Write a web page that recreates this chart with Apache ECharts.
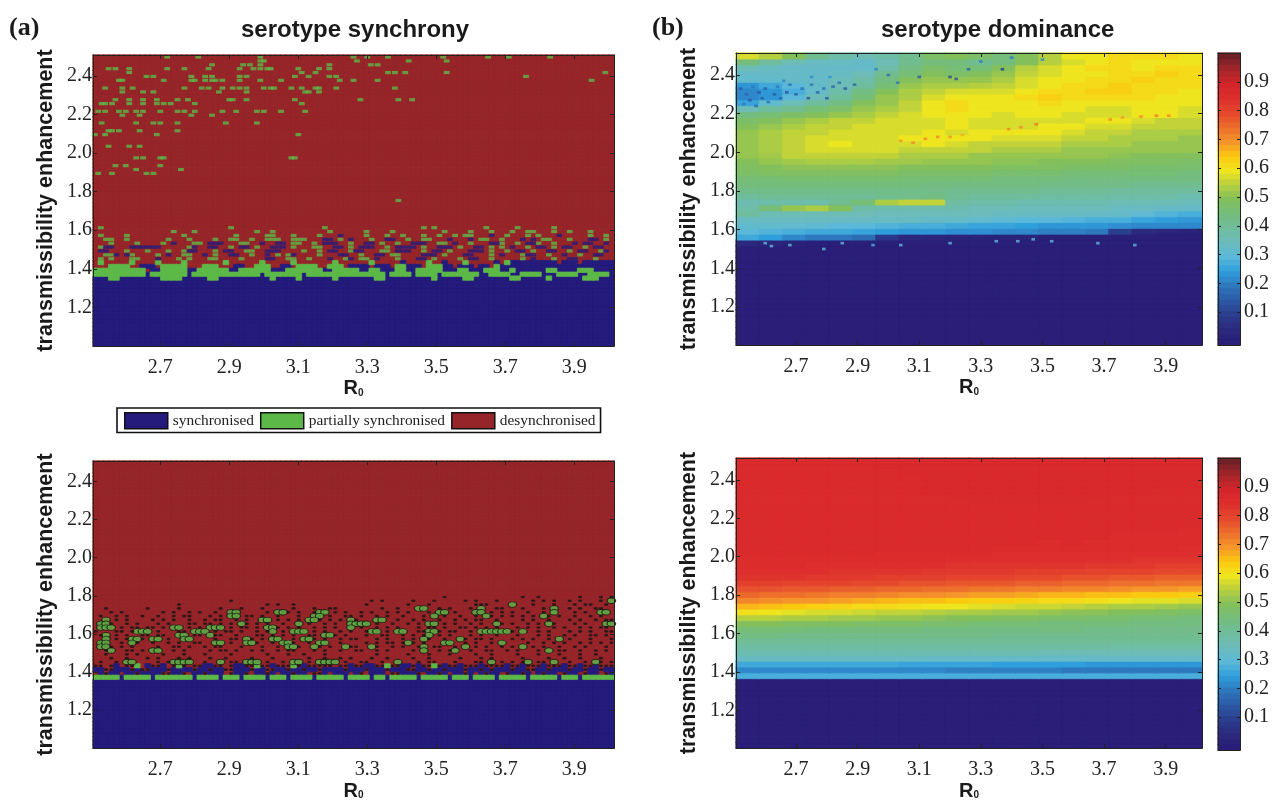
<!DOCTYPE html>
<html><head><meta charset="utf-8">
<style>html,body{margin:0;background:#fff}#c{width:1275px;height:802px;filter:blur(0.6px)}</style>
<script src="https://cdn.jsdelivr.net/npm/echarts@6/dist/echarts.min.js"></script>
</head><body><div id="c"></div>
<script>
const r0Ticks=[2.7,2.9,3.1,3.3,3.5,3.7,3.9];
const enhTicks=[1.2,1.4,1.6,1.8,2.0,2.2,2.4];
const barTicks=[0.1,0.2,0.3,0.4,0.5,0.6,0.7,0.8,0.9];
const barLevels=[0,.02,.04,.06,.08,.1,.12,.14,.16,.18,.2,.22,.24,.26,.28,.3,.32,.34,.36,.38,.4,.42,.44,.46,.48,.5,.52,.54,.56,.58,.6,.62,.64,.66,.68,.7,.72,.74,.76,.78,.8,.82,.84,.86,.88,.9,.92,.94,.96,.98,1];
const jet=['#2a1e78','#2b2a7e','#2b3f8f','#2c5ba6','#2e78bd','#2f9fdc','#5cb8d8','#6cbcbc','#6fbd9d','#74bd7c','#83c05c','#b5cf3f','#efe51f','#fbc90f','#f5962a','#ee6f2b','#e5492d','#de2f2e','#d4262a','#a8262a','#6f2126'];
const classNames={b:'synchronised',g:'partially synchronised',r:'desynchronised'};
const classColors={b:'#241b7c',g:'#5cb947',r:'#96252a'};

// (a) top: green patches [enhancement, R0 x 100 ...]
const syncTopGreen=[
[2.50,[272,281,299,326,330,336,352,365,371,383]],
[2.48,[299,300,327,342,353]],
[2.46,[285,294,296,299,319,331,333]],
[2.44,[255,257,261,272,277,284,293,297,299,301,302,310,316,319]],
[2.42,[261,311,315,336,338,341,353,399]],
[2.40,[266,268,279,283,285,293,295,309,313,319,321,376]],
[2.37,[258,259,271,279,280,283,285,286,288,293,299,305,322,326,333,395]],
[2.34,[254,259,262,277,282,284,288,291,293,295,300,302,303,308,311,315,316,321,338]],
[2.31,[259,265,268,287,295,312,313,316]],
[2.28,[257,261,265,269,275,278,290,291,295,309,328,339,343]],
[2.25,[253,254,256,261,265,269,271,273,280,311]],
[2.22,[252,254,258,260,263,265,270,275,277,280,288,292,298,300,305,312]],
[2.19,[259,264,279,285]],
[2.15,[253,263,268,270,275,289,298]],
[2.12,[255,256,258,264,275]],
[2.09,[251,254,269,310]],
[2.03,[255,261,264]],
[1.965,[263,265,270,271,308,309]],
[1.94,[257,260,270]],
[1.914,[263,276]],
[1.89,[252,256,266,268]],
[1.76,[339]]
];
// (a) top: mixed band, rows top-down, 100 columns. .=desynchronised g=partial b=synchronised
const syncTopBandFirst=30;
const syncTopBand=[
".g........ .......... ......g... .......... ....g..... .......... ...g.g.... .....g.... .g......g. ........",
"......... ......g... g......... ..g..g.... ......g... ...g....g. ........g. ...g...g.. .g..gg...g ..g...g...",
".g....g... .......g.. .......g.. ...gg...g. ...g...b.. ..g...g..g ...g..g..g .gg...b..g ...g.g...b .....g..g.",
"..gg..g... ....g...g. ...g..gg.. g..ggg..gg g...bb.g.b ...g..bb.. g..gg...b. ..b.gg..g. ..b.b.gg.. .g...bb.g.",
"...g....g. ...g.b...g g.bbb...gg ..b..bb.gg ..g.bbb..g ..bb.g..g. .bbb..gg.b ..g...bbg. .g.bbg..g. ..b.bb..b.",
".gbb...bbb bbb.....gb ..bb..g.bb .g..bbb.g. ..gg..bb.g .bbb..g.bb bb.g..bbb. g..bb.g.g. b..g.bb.g. bb..g.bb..",
".bb...g... g...g..gbb ...g.bb..g g..bbb.... g..g.bb..g bb...gg.bb b..g.bb.g. ..bbb.g..g .bb.g..bb. .g.bb..gb.",
"..ggb.bg.. ..g.b..gg. .b.g..bb.. g..b.g.gb. ...g...bb. .g..bb.gg. ...bbb.g.. .bb...g.b. ..gbb..g.. b..g..bb..",
".g.g...gg. ..b...g.g. ..gg....g. ...bb..gg. .g...b..gb .gg.b...g. ..bb.g.... g.bb..g... ..g.b...g. .bb...g...",
".g.....g.. ..g....g.. .....g.... ..g.....g. ......g... ...g.....b ....g..b.. .g.....b.g bbbbbbbbb. bbb.bbbbbb",
"...gggg..b bb.ggggg.. .ggg...bb. .ggg..bb.g ggg..ggg.b bbb.bbb.gg bbb.gggbb. bbb.bb.gbb bbbbbbbbbb bbbbbbbbbb",
"gggggggggg .bbgggggbb ggggggbbgg ggggbbbggg ggggbbgggg gbbggbbbgg bbgggggbbb ggbbbgggbb gbbbbbbggb bbbgggbbbb",
"gggggggggg bgggggggbg gggggggggg ggbggggggg bggggggggg ggggggbggg gbggggbggg ggggbbgggg bbggggbbbg gggbbggggb",
"bbbggbbbbb bbbggggbbb bbggbbbbbb bbbbgbbbbg bbbbbbgbbb bbbbggbbbb bbbbbgbbbb bggbbbbbbb ggbbbbbgbb bbbbgggbbb"
];
// (a) bottom: rows top-down, k=contour dot
const syncLowBandFirst=39;
const syncLowBand=[
".......... .......... .......... .......... .......... .......... .......k.. .......... ..k..k.... ...k...k.k",
".......... .......... ......k... .......... .......... ...k.k.... .k...k.... .k.k...k.. ....k.k.k. .k.k...k.g",
".......... ......k... .......... ...k.k..k. .......... ..k....... k...k..... ...kkk.... g...k...k. ..k.kk..k.",
"..k....... k.....k... ....k...k. ..k.....k. ..k..kk... .....k..k. ..gg..k.k. ..k.g..kk. ..k...k.g. .k.k..kk..",
"...k.k.... ...k.k..k. k..k..gg.. ...k.ggk.k ..kgg.k.k. .k.k..k.k. k...k.gg.k ...gg.k.k. k..k..k.g. ..k.k..gg.",
".k..k.k..k ..k..k.kk. ..k.k.gg.k k.k..k...k ..gg.k..kk .k..k.k..k ...k.g.k.. k..k.gk.k. k.k.k.gk.k ..k..k.k..",
"..g.k.k... .k.k.k..k. .k.kk..k.k ..gg.k.k.k .ggk.k.k.g k...gg..k. .k.k..k..k .k.kk..k.. ..k.k..k.. .k.k..k.kk",
".ggk..k.k. ..k.k...kk .kk.k.k.gk .k.k..k..g .k..k.k..g ggg.k..k.. k.k.gg.k.k ..k.k..gk. k..k.k.gk. ..k.k...gg",
".ggg.k.kk. kk.k.gg.k. k.ggg.k.kk .k.ggk.k.k ..k.k.k..g .k..k.k.k. ..k.kk.k.. kk.k.k.k.. .k.k.k..k. k..k.k.kk.",
"k...kk.kgg g.k...kk.g gg.k.kk.k. .k.kg.k.gg g.k.k..k.k ..kgg.k.gg ..kkggk.kk ..k.gggggg k.g..k.k.. .k.k.k..kk",
".kg.k.k..k k.kk..gg.k k.gkk..k.. .kk.k.k.k. .kk.ggk.k. ..k..kk..k .k.kg.k.k. ..k.k..k.. .k...k.k.. k.k..kk.k.",
"..g.k.kggk .gg.k..gg. ...k..kk.g k.k.gg..k. ggk.k..k.k k...k.k..k .k.gk..k.. gk.kk.k... k.k.k..k.g .k...k...k",
".gg..k.gk. .k..k.k..k k..gg.k..g gk..k.ggk. .k.gg..k.. ..k.k.kk.k gk.k...gg. .k.k..k.g. ...k..k.k. k..k.k.k.k",
".ggk.k.k.. ..k..kk.k. .k.kk...k. ..k..k.ggk ..gk.k..gk k..gk..k.k ..kg.kk..k .g.k.k..k. k.g.k.k..k ..k.k...k.",
"..kg..kk.k .gg..k.k.. ..k.kk.k.. k.k..k.kk. ..k.k..k.. kk..k.k... .k.g..k.kg ..k..kk..k .k...k.g.k k..k..k.k.",
"..k...k.k. ...k...k.. .k....k... ...k...k.. k...k..... ....k..... k...k...k. ...k..k... .k...k...k ...k..k...",
"...k..k... k.k...k.k. ..k..k.... k...k..... .k..k..k.k ...k..k... .k..k..... k...k.k... ..k....k.. k..k...k..",
".k..k.gg.. ..k.kgggg. .k..g.kk.g gg.k..k.gg .k.gggg.k. .kk..k..g. ..k.kk...k ...kk.g.k. k.kg.kk.g. .k..k.gk.k",
"kk.kb.kkg. bkkb.kgk.k kbbkk.kbbk kgkkbkkkgk bkkkkk.kkb kkbbkkgkkb bkbkkgkbkk bkkkbkkkkb kkbkkkbkkk bkkbkkbkkk",
"bbkkbbbkbk kbbbkbbbbk bbkbbkkbbb kbbkkbbkbb kbbkbbbbkb bbkbbbkbbb kkbbkbbkbb bkbbkbkbbb kbbkkbbkbb bkbbkbbkbb",
".bkbb.bbkb bbbkkbbk.b bkbbb.kbbk .bbkb.bbkb b.kkb.bbb. bk.bbb.kkb bbk.bbkb.b bkb.bkbb.k bbkb.bkbb. kbb.kbb.kb",
"gggggbgggg gbgggggggb ggggbgggbg gggbgggbgg ggbgggggbg gggbggbggg ggbgggggbg ggbggggbgg gggbgggggb gggbgggggg"
];
// (b) top, percent, rows 2.49 down to 1.53, 20 R0 columns
const domTop=[
[58,55,50,42,38,36,38,42,48,50,48,45,50,55,60,60,62,62,62,60],
[45,40,36,34,34,33,36,42,45,45,42,44,50,55,58,60,62,60,60,60],
[36,34,33,33,33,33,38,44,48,46,46,50,55,58,60,62,62,60,62,62],
[33,33,33,33,34,36,42,46,50,48,50,52,56,58,60,60,62,62,64,62],
[32,32,33,33,35,38,44,50,52,52,52,54,58,60,60,62,62,64,62,62],
[24,27,30,33,36,40,46,52,54,54,55,56,58,60,62,62,64,62,62,62],
[22,24,28,33,38,44,50,54,56,58,58,58,60,62,62,64,64,62,62,60],
[22,24,30,36,40,46,52,54,58,60,60,60,62,64,62,62,62,62,60,60],
[26,32,36,40,44,50,52,56,60,62,60,60,60,62,60,60,60,60,60,60],
[36,40,42,46,48,52,54,56,60,62,60,60,60,60,60,58,58,60,60,58],
[44,46,48,50,52,54,56,58,60,60,60,58,60,60,58,58,58,60,60,58],
[48,50,52,54,56,56,58,58,58,60,58,58,58,58,58,60,60,58,56,56],
[50,52,54,56,56,58,58,58,58,60,58,58,58,60,60,58,58,56,56,56],
[52,54,56,56,58,58,58,58,60,58,60,60,60,60,58,56,56,54,54,54],
[52,54,56,58,58,58,58,60,60,60,60,58,58,58,56,56,54,54,54,52],
[52,54,56,58,60,58,58,58,60,58,56,56,56,56,54,54,54,52,52,52],
[52,54,56,58,58,58,58,56,56,56,56,54,54,54,52,52,52,52,52,52],
[52,53,56,56,56,56,56,54,54,54,52,52,52,52,52,52,51,50,50,50],
[50,52,53,54,54,54,53,53,52,52,52,51,51,50,50,50,49,49,49,48],
[49,50,51,51,51,51,51,50,50,50,50,49,49,49,48,48,48,47,47,47],
[48,49,49,49,49,49,49,48,48,48,48,47,47,47,46,46,46,46,46,45],
[46,46,47,47,47,47,47,46,46,46,46,45,45,45,44,44,44,44,44,44],
[45,45,45,45,45,45,45,45,44,44,44,44,44,43,43,43,43,42,42,42],
[43,43,43,43,43,43,43,43,43,42,42,42,42,41,41,41,40,40,40,40],
[40,41,41,41,41,41,42,43,44,41,40,40,40,39,39,39,38,38,38,37],
[37,38,38,38,42,46,54,56,56,39,38,38,37,37,37,37,36,36,36,35],
[38,46,52,54,50,38,37,37,37,37,36,36,35,35,35,35,34,34,33,33],
[40,36,36,36,36,36,35,35,35,35,35,34,34,34,34,33,33,31,29,28],
[34,34,34,34,34,34,34,34,33,33,32,31,30,30,29,28,28,26,25,24],
[32,32,32,31,30,30,29,28,28,27,26,26,25,24,24,24,23,22,22,22],
[30,29,28,27,27,26,25,24,24,23,23,22,22,21,21,20,10,5,3,2],
[27,25,22,20,20,18,8,4,3,2,2,2,2,1,1,1,1,1,1,1],
[4,3,2,1,1,1,1,1,1,1,1,1,1,1,1,1,1,1,1,1]
];
// (b) bottom, percent, rows 2.49 down to 1.38
const domLow=[
[87,87,87,87,87,87,88,88,88,88,88,88,88,88,88,88,88,88,88,88],
[87,87,87,87,87,87,88,88,88,88,88,88,88,88,88,88,88,88,88,88],
[87,87,87,87,87,87,87,88,88,88,88,88,88,88,88,88,88,88,88,88],
[87,87,87,87,87,87,87,87,88,88,88,88,88,88,88,88,88,88,88,88],
[87,87,87,87,87,87,87,87,88,88,88,88,88,88,88,88,88,88,88,88],
[87,87,87,87,87,87,87,87,88,88,88,88,88,88,88,88,88,88,87,87],
[87,87,87,87,87,87,87,87,87,88,88,88,88,88,88,88,87,87,87,87],
[87,87,87,87,87,87,87,87,87,87,88,88,88,88,88,87,87,87,87,87],
[87,87,87,87,87,87,87,87,87,87,87,87,87,87,87,87,87,87,87,87],
[87,87,87,87,87,87,87,87,87,87,87,87,87,87,87,87,87,87,87,87],
[87,87,87,87,87,87,87,87,87,87,87,87,87,87,87,87,87,87,87,87],
[87,87,87,87,87,87,87,87,87,87,87,87,87,87,87,87,87,87,87,87],
[87,87,87,87,87,87,87,87,87,87,87,87,87,87,87,87,87,87,87,86],
[87,87,87,87,87,87,87,87,87,87,87,87,87,87,87,87,86,86,86,86],
[87,87,87,87,87,87,87,87,87,87,87,87,87,86,87,86,86,86,86,86],
[87,87,87,87,87,87,87,87,87,87,87,86,86,86,86,86,86,86,86,85],
[87,87,87,87,87,87,86,86,86,86,86,85,85,85,85,85,85,85,85,85],
[86,86,86,86,86,86,86,86,86,85,85,85,85,85,85,85,85,84,84,84],
[86,86,86,85,85,85,85,85,85,84,84,84,84,84,84,83,83,83,82,82],
[85,85,85,85,84,84,84,84,83,83,83,83,82,82,82,81,81,81,80,80],
[84,84,84,83,83,83,82,82,82,81,81,81,80,80,79,79,78,78,77,77],
[82,82,81,81,81,80,80,79,79,78,78,78,77,77,76,76,75,75,74,74],
[79,79,78,78,77,77,76,76,75,75,74,74,73,73,72,72,71,70,70,69],
[76,75,75,74,73,73,72,71,71,70,69,69,68,67,67,66,66,65,65,64],
[72,71,70,70,69,68,67,66,66,65,64,64,63,62,62,61,60,59,59,58],
[67,66,65,64,63,62,62,61,60,60,59,58,57,57,56,55,54,54,53,52],
[61,60,59,58,58,57,56,56,55,54,54,53,53,52,51,51,50,50,49,48],
[55,55,54,54,53,53,52,52,51,50,50,49,49,48,48,47,47,46,46,45],
[50,50,49,49,49,48,48,48,47,47,46,46,46,45,45,45,45,44,44,44],
[46,46,46,45,45,45,45,45,44,44,44,44,44,44,44,43,43,43,43,43],
[44,44,43,43,43,43,43,43,43,43,43,42,42,42,42,42,42,42,42,42],
[41,41,41,41,41,41,41,41,41,41,41,41,41,41,41,41,41,41,41,41],
[39,39,39,39,39,39,39,39,39,39,39,39,39,39,39,39,38,38,38,38],
[37,37,37,37,37,37,37,37,37,37,37,37,37,36,36,36,36,36,36,36],
[34,34,34,34,34,34,34,34,33,33,33,33,33,33,33,33,33,33,33,33],
[27,27,27,27,27,27,27,26,26,26,26,25,25,25,25,24,24,24,24,24],
[22,22,22,22,22,22,22,22,22,21,21,21,21,21,20,20,20,20,20,20],
[28,28,28,28,28,28,28,28,28,28,28,28,28,28,28,28,28,28,28,28]
];
// (b) top: isolated specks [R0, enhancement, value]
const domSpecks=[
[2.52,2.33,.15],[2.54,2.3,.17],[2.55,2.27,.14],[2.56,2.34,.2],[2.58,2.31,.13],[2.59,2.28,.16],[2.6,2.33,.15],[2.61,2.26,.18],[2.63,2.3,.14],[2.64,2.34,.2],[2.65,2.28,.17],[2.67,2.31,.13],[2.68,2.35,.19],[2.7,2.3,.15],[2.72,2.33,.18],[2.74,2.28,.13],[2.75,2.35,.2],[2.77,2.31,.16],[2.79,2.33,.19],[2.8,2.28,.14],[2.82,2.34,.16],[2.84,2.36,.18],[2.86,2.33,.14],[2.89,2.35,.17],[2.53,2.25,.2],[2.57,2.24,.17],[2.66,2.37,.22],[2.75,2.39,.22],[2.81,2.39,.24],
[2.96,2.43,.22],[3.0,2.4,.18],[3.03,2.36,.2],[3.1,2.39,.15],[3.2,2.39,.12],[3.22,2.38,.14],[3.26,2.43,.16],[3.3,2.47,.2],[3.37,2.43,.1],[3.4,2.49,.2],[3.5,2.48,.22],
[3.04,2.06,.7],[3.08,2.05,.72],[3.12,2.07,.72],[3.16,2.08,.72],[3.2,2.08,.7],[3.24,2.09,.68],[3.39,2.12,.72],[3.43,2.13,.72],[3.48,2.145,.74],[3.72,2.17,.72],[3.76,2.18,.7],[3.82,2.185,.72],[3.87,2.19,.74],[3.91,2.19,.72],
[2.6,1.53,.3],[2.62,1.515,.3],[2.68,1.52,.32],[2.79,1.5,.3],[2.85,1.53,.3],[2.95,1.52,.28],[3.04,1.52,.3],[3.2,1.53,.3],[3.35,1.54,.3],[3.42,1.54,.3],[3.47,1.55,.3],[3.53,1.54,.3],[3.68,1.53,.3],[3.8,1.52,.3]
];

const serif='"Liberation Serif"',sans='"Liberation Sans"';
const option={animation:false,backgroundColor:'#fff',
 title:[
  {text:'(a)',left:4,top:10,textStyle:{fontFamily:serif,fontWeight:'bold',fontSize:26,color:'#1a1a1a'}},
  {text:'(b)',left:647,top:10,textStyle:{fontFamily:serif,fontWeight:'bold',fontSize:26,color:'#1a1a1a'}},
  {text:'serotype synchrony',left:236,top:13,textStyle:{fontFamily:sans,fontWeight:'bold',fontSize:24,color:'#1a1a1a'}},
  {text:'serotype dominance',left:876,top:13,textStyle:{fontFamily:sans,fontWeight:'bold',fontSize:24,color:'#1a1a1a'}}
 ],
 legend:{left:117,top:408,padding:[4,5,3,7],itemGap:6,itemWidth:43,itemHeight:16,selectedMode:false,borderColor:'#111',borderWidth:1.6,
  textStyle:{fontFamily:serif,fontSize:15.4,color:'#222'},
  data:['b','g','r'].map(c=>({name:classNames[c],icon:'rect',itemStyle:{color:classColors[c],borderColor:'#111',borderWidth:1.5}}))},
 grid:[],xAxis:[],yAxis:[],series:[],
 visualMap:{show:false,min:0,max:1,dimension:2,inRange:{color:jet},seriesIndex:[]}
};

function addPanel(box,xr,yr,nx,ny){
 const g=option.grid.length; option.grid.push({left:box[0],top:box[1],width:box[2],height:box[3],containLabel:false});
 const xi=option.xAxis.length, yi=option.yAxis.length;
 const cat=n=>Array.from({length:n},(_,i)=>String(i));
 option.xAxis.push({type:'category',gridIndex:g,show:false,data:cat(nx)});
 option.yAxis.push({type:'category',gridIndex:g,show:false,data:cat(ny)});
 const line={show:true,onZero:false,lineStyle:{color:'#222',width:1}};
 const tick=(vals)=>({show:true,inside:true,length:4,customValues:vals,lineStyle:{color:'#222',width:1}});
 option.xAxis.push({type:'value',gridIndex:g,position:'bottom',min:xr[0],max:xr[1],z:6,splitLine:{show:false},axisLine:line,axisTick:tick(r0Ticks),
  axisLabel:{customValues:r0Ticks,margin:12,fontFamily:serif,fontSize:20,color:'#222',formatter:v=>v.toFixed(1)},
  name:'{r|R}{s|0}',nameLocation:'middle',nameGap:26,nameTextStyle:{rich:{r:{fontFamily:sans,fontWeight:'bold',fontSize:20,color:'#1a1a1a'},s:{fontFamily:sans,fontWeight:'bold',fontSize:10,color:'#1a1a1a',padding:[9,0,0,0]}}}});
 option.xAxis.push({type:'value',gridIndex:g,position:'top',min:xr[0],max:xr[1],z:6,splitLine:{show:false},axisLine:line,axisTick:tick(r0Ticks),axisLabel:{show:false}});
 option.yAxis.push({type:'value',gridIndex:g,position:'left',min:yr[0],max:yr[1],z:6,splitLine:{show:false},axisLine:line,axisTick:tick(enhTicks),
  axisLabel:{customValues:enhTicks,margin:1,fontFamily:serif,fontSize:20,color:'#222',formatter:v=>v.toFixed(1)},
  name:'transmissibility enhancement',nameLocation:'middle',nameRotate:90,nameGap:36,nameTextStyle:{fontFamily:sans,fontWeight:'bold',fontSize:21.5,color:'#1a1a1a'}});
 option.yAxis.push({type:'value',gridIndex:g,position:'right',min:yr[0],max:yr[1],z:6,splitLine:{show:false},axisLine:line,axisTick:tick(enhTicks),axisLabel:{show:false}});
 return {cx:xi,cy:yi,vx:xi+1,vy:yi+1};
}

// synchrony panels: 100 x 75 cells; solid rows are cells, rows above are thin patches
const NX=100,NY=75,X0=2.505,XS=0.0151,YS=0.0201,SOLID_TOP=21;
function synchronyPanel(box,bandFirst,band,greens,outlined){
 const ax=addPanel(box,[2.505,4.015],[1.0,2.508],NX,NY);
 const cells={};
 const set=(c,k,v)=>{if(c>=0&&c<NX&&k>=0&&k<NY)cells[c+','+k]=v;};
 for(let k=0;k<NY;k++)for(let c=0;c<NX;c++)cells[c+','+k]=k<18?'b':'r';
 const pos=(c,k)=>[X0+XS*(c+.5),1+YS*(k+.5)];
 const marks={g:[],b:[],k:[]};
 greens.forEach(([e,list])=>{const k=Math.floor((e-1)/YS);list.forEach(v=>marks.g.push([v/100,1+YS*(k+.5)]));});
 band.forEach((s,i)=>{const row=s.replace(/ /g,''),k=bandFirst-i;
  for(let c=0;c<row.length;c++){const ch=row[c];
   if(ch==='.')continue;
   if(ch==='k'){marks.k.push(pos(c,k));continue;}
   if(k<=SOLID_TOP)set(c,k,ch); else marks[ch].push(pos(c,k));}});
 const by={b:[],g:[],r:[]};
 for(let k=0;k<NY;k++)for(let c=0;c<NX;c++)by[cells[c+','+k]].push([c,k,1]);
 ['r','b','g'].forEach(cl=>{
  option.series.push({type:'heatmap',name:classNames[cl],xAxisIndex:ax.cx,yAxisIndex:ax.cy,data:by[cl],progressive:0,silent:true,emphasis:{disabled:true},
   itemStyle:{color:classColors[cl],borderColor:classColors[cl],borderWidth:0.7}});
 });
 const markSeries=(cl,data,extra)=>option.series.push(Object.assign({type:'scatter',name:classNames[cl],xAxisIndex:ax.vx,yAxisIndex:ax.vy,data,silent:true,z:3},extra));
 if(outlined){
  markSeries('g',marks.g,{symbol:'circle',symbolSize:[8.5,5.5],itemStyle:{color:classColors.g,borderColor:'#111',borderWidth:1}});
  option.series.push({type:'scatter',name:'contour',xAxisIndex:ax.vx,yAxisIndex:ax.vy,data:marks.k,symbol:'circle',symbolSize:[4.2,2.6],silent:true,itemStyle:{color:'#141414'},z:3});
 }else{
  markSeries('g',marks.g,{symbol:'rect',symbolSize:[5.8,3.2],itemStyle:{color:classColors.g}});
  markSeries('b',marks.b,{symbol:'rect',symbolSize:[5.8,3.2],itemStyle:{color:classColors.b}});
 }
}
const shade=v=>echarts.color.lerp(v,jet);
// dominance panels: 20 x 50 cells
function dominancePanel(box,table,specks){
 const ax=addPanel(box,[2.505,4.018],[1.003,2.514],20,50);
 const data=[];
 for(let k=0;k<50;k++)for(let c=0;c<20;c++){
  const row=table[49-k],v=row?row[c]/100:0;
  data.push({value:[c,k,v],itemStyle:{borderColor:shade(v),borderWidth:0.7}});
 }
 option.visualMap.seriesIndex.push(option.series.length);
 option.series.push({type:'heatmap',name:'dominance',xAxisIndex:ax.cx,yAxisIndex:ax.cy,data,progressive:0,silent:true,emphasis:{disabled:true}});
 if(specks){
  option.visualMap.seriesIndex.push(option.series.length);
  option.series.push({type:'scatter',name:'dominance specks',xAxisIndex:ax.vx,yAxisIndex:ax.vy,data:specks,symbol:'rect',symbolSize:[3.6,2.6],silent:true,z:3});
 }
}
function colorbar(box){
 const g=option.grid.length; option.grid.push({left:box[0],top:box[1],width:box[2],height:box[3]});
 const xi=option.xAxis.length,yi=option.yAxis.length;
 option.xAxis.push({type:'category',gridIndex:g,show:false,data:['v']});
 option.yAxis.push({type:'category',gridIndex:g,show:false,data:barLevels.map(String)});
 const line={show:true,onZero:false,lineStyle:{color:'#222',width:1}};
 option.xAxis.push({type:'value',gridIndex:g,position:'bottom',min:0,max:1,z:6,splitLine:{show:false},axisLine:line,axisTick:{show:false},axisLabel:{show:false}});
 option.xAxis.push({type:'value',gridIndex:g,position:'top',min:0,max:1,z:6,splitLine:{show:false},axisLine:line,axisTick:{show:false},axisLabel:{show:false}});
 option.yAxis.push({type:'value',gridIndex:g,position:'right',min:-0.014,max:1,z:6,splitLine:{show:false},axisLine:line,axisTick:{show:true,inside:true,length:3,customValues:barTicks,lineStyle:{color:'#222'}},
  axisLabel:{customValues:barTicks,margin:4,fontFamily:serif,fontSize:20,color:'#222',formatter:v=>v.toFixed(1)}});
 option.yAxis.push({type:'value',gridIndex:g,position:'left',min:-0.014,max:1,z:6,splitLine:{show:false},axisLine:line,axisTick:{show:true,inside:true,length:3,customValues:barTicks,lineStyle:{color:'#222'}},axisLabel:{show:false}});
 option.visualMap.seriesIndex.push(option.series.length);
 option.series.push({type:'heatmap',name:'colour scale',xAxisIndex:xi,yAxisIndex:yi,data:barLevels.map((v,i)=>({value:[0,i,v],itemStyle:{borderColor:shade(v),borderWidth:0.7}})),progressive:0,silent:true,emphasis:{disabled:true}});
}
synchronyPanel([93,55,521,291],syncTopBandFirst,syncTopBand,syncTopGreen,false);
synchronyPanel([93,461,521,291],syncLowBandFirst,syncLowBand,[],true);
dominancePanel([736,53,466,292],domTop,domSpecks);
dominancePanel([736,458,466,292],domLow,null);
colorbar([1218,53,22,292]);
colorbar([1218,458,22,292]);
echarts.init(document.getElementById('c'),null,{renderer:'canvas'}).setOption(option);
</script></body></html>
